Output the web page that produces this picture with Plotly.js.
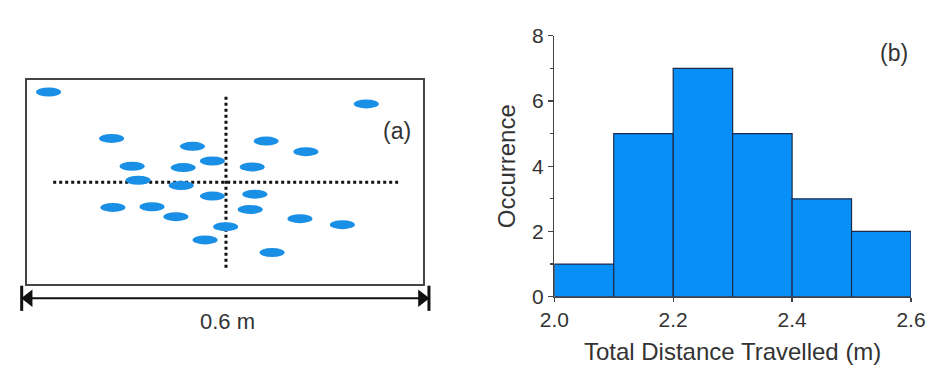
<!DOCTYPE html>
<html>
<head>
<meta charset="utf-8">
<script src="https://cdn.plot.ly/plotly-3.0.1.min.js"></script>
<style>html,body{margin:0;padding:0;background:#fff;}#chart{width:928px;height:367px;}</style>
</head>
<body>
<div id="chart"></div>
<script>
// ---- Panel (a): final positions of particles in the 0.6 m wide box (metres) ----
const particleX = [0.034, 0.513, 0.129, 0.251, 0.362, 0.422, 0.160, 0.237, 0.281, 0.341, 0.169, 0.234,
                   0.281, 0.345, 0.131, 0.190, 0.226, 0.338, 0.413, 0.477, 0.301, 0.270, 0.371];
const particleY = [0.291, 0.273, 0.221, 0.209, 0.217, 0.201, 0.179, 0.177, 0.187, 0.178, 0.158, 0.150,
                   0.134, 0.137, 0.117, 0.118, 0.103, 0.114, 0.100, 0.091, 0.088, 0.068, 0.049];
const boxWidth = 0.6;
const boxHeight = 0.3106;
const crossX = 0.3015;
const crossY = 0.155;
const crossVertical = [0.026, 0.286];
const crossHorizontal = [0.041, 0.561];
const dimensionLabel = '0.6 m';

// ---- Panel (b): histogram of total distance travelled ----
const binEdges = [2.0, 2.1, 2.2, 2.3, 2.4, 2.5, 2.6];
const counts = [1, 5, 7, 5, 3, 2];
const xTickVals = [2.0, 2.2, 2.4, 2.6];
const xTickText = ['2.0', '2.2', '2.4', '2.6'];
const yTickVals = [0, 2, 4, 6, 8];

const binCenters = counts.map((c, i) => (binEdges[i] + binEdges[i + 1]) / 2);
const binWidths = counts.map((c, i) => binEdges[i + 1] - binEdges[i]);

const W = 928, H = 367;
const pxPerM = 663.3;
const ellW = 25 / pxPerM, ellH = 9 / pxPerM;
const dimY = -0.020;
const dimX0 = -0.0065, dimX1 = 0.6075;
const triOff = 7 / pxPerM;

const textColor = '#333333';
const font = 'Liberation Sans, Arial, sans-serif';

const traces = [
  // crosshair
  {x: [crossX, crossX], y: crossVertical, xaxis: 'x', yaxis: 'y', mode: 'lines',
   line: {color: '#111', width: 3, dash: 'dot'}, hoverinfo: 'skip', showlegend: false},
  {x: crossHorizontal, y: [crossY, crossY], xaxis: 'x', yaxis: 'y', mode: 'lines',
   line: {color: '#111', width: 3, dash: 'dot'}, hoverinfo: 'skip', showlegend: false},
  // dimension line
  {x: [dimX0, dimX1], y: [dimY, dimY], xaxis: 'x', yaxis: 'y', mode: 'lines',
   line: {color: '#111', width: 2}, hoverinfo: 'skip', showlegend: false},
  {x: [dimX0, dimX1], y: [dimY, dimY], xaxis: 'x', yaxis: 'y', mode: 'markers',
   marker: {symbol: 'line-ns', size: 18, line: {color: '#111', width: 3}}, hoverinfo: 'skip', showlegend: false},
  {x: [dimX0 + triOff], y: [dimY], xaxis: 'x', yaxis: 'y', mode: 'markers',
   marker: {symbol: 'triangle-left', size: 15, color: '#111'}, hoverinfo: 'skip', showlegend: false},
  {x: [dimX1 - triOff], y: [dimY], xaxis: 'x', yaxis: 'y', mode: 'markers',
   marker: {symbol: 'triangle-right', size: 15, color: '#111'}, hoverinfo: 'skip', showlegend: false},
  // histogram
  {type: 'bar', x: binCenters, y: counts, width: binWidths, xaxis: 'x2', yaxis: 'y2',
   marker: {color: '#0890f8', line: {color: '#1c2b48', width: 1.2}}, showlegend: false}
];

const shapes = [
  {type: 'rect', xref: 'x', yref: 'y', x0: 0, x1: boxWidth, y0: 0, y1: boxHeight,
   line: {color: '#444', width: 2}, fillcolor: 'rgba(0,0,0,0)', layer: 'below'}
];
particleX.forEach((px, i) => {
  shapes.push({type: 'circle', xref: 'x', yref: 'y',
    x0: px - ellW / 2, x1: px + ellW / 2, y0: particleY[i] - ellH / 2, y1: particleY[i] + ellH / 2,
    fillcolor: '#1a8fe6', line: {width: 0}, layer: 'above'});
});

// left panel axis ranges so the box sits at pixel 26..424 horizontally, bottom at y=285
const xDomA = [0, 0.5];
const xRangeA = [-26 / pxPerM, (W * 0.5 - 26) / pxPerM];
const yRangeA = [-(H - 285) / pxPerM, 285 / pxPerM];

const layout = {
  width: W, height: H,
  margin: {l: 0, r: 0, t: 0, b: 0},
  paper_bgcolor: '#fff', plot_bgcolor: 'rgba(0,0,0,0)',
  font: {family: font, color: textColor, size: 21},
  showlegend: false,
  bargap: 0,
  xaxis: {domain: xDomA, range: xRangeA, visible: false, fixedrange: true},
  yaxis: {domain: [0, 1], range: yRangeA, visible: false, fixedrange: true},
  xaxis2: {anchor: 'y2', domain: [554.3 / W, 911 / W], range: [2.0, 2.6],
    tickvals: xTickVals, ticktext: xTickText, ticks: 'outside', ticklen: 4, tickwidth: 1.2,
    tickcolor: '#444', showline: true, linecolor: '#444', linewidth: 1.2, showgrid: false, zeroline: false,
    tickfont: {size: 21, color: textColor, family: font},
    title: {text: 'Total Distance Travelled (m)', font: {size: 24, color: textColor, family: font}, standoff: 13}},
  yaxis2: {anchor: 'x2', domain: [(H - 296.7) / H, (H - 35.7) / H], range: [0, 8],
    tickvals: yTickVals, ticks: 'outside', ticklen: 5, tickwidth: 1.2, tickcolor: '#444',
    minor: {dtick: 1, ticks: 'outside', ticklen: 3, tickcolor: '#444', tickwidth: 1.2, showgrid: false},
    showline: true, linecolor: '#444', linewidth: 1.5, showgrid: false, zeroline: false,
    tickfont: {size: 21, color: textColor, family: font},
    title: {text: 'Occurrence', font: {size: 24, color: textColor, family: font}, standoff: 9}},
  shapes: shapes,
  annotations: [
    {xref: 'x', yref: 'y', x: 0.3045, y: -0.0553, text: dimensionLabel, showarrow: false,
     font: {size: 22, color: textColor, family: font}, xanchor: 'center', yanchor: 'middle'},
    {xref: 'paper', yref: 'paper', x: 396.7 / W, y: 1 - 130.7 / H, text: '(a)', showarrow: false,
     font: {size: 23, color: textColor, family: font}, xanchor: 'center', yanchor: 'middle'},
    {xref: 'paper', yref: 'paper', x: 894 / W, y: 1 - 53 / H, text: '(b)', showarrow: false,
     font: {size: 23, color: textColor, family: font}, xanchor: 'center', yanchor: 'middle'}
  ]
};

Plotly.newPlot('chart', traces, layout, {staticPlot: true, displayModeBar: false});
</script>
</body>
</html>
